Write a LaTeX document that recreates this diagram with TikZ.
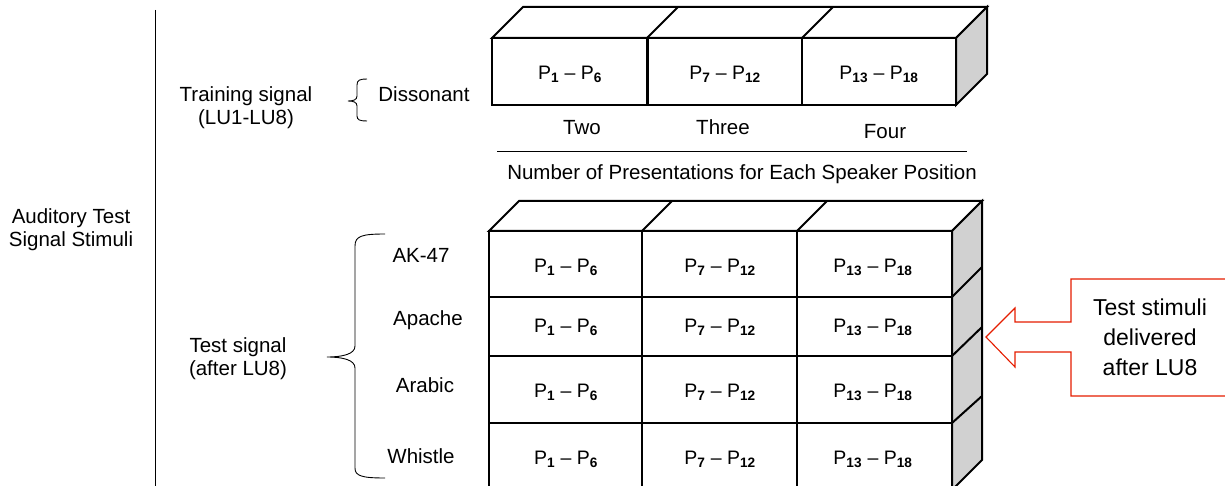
\documentclass[tikz,border=0pt]{standalone}
\usepackage{fontspec}
\setmainfont{Liberation Sans}
\newcommand{\sbx}[1]{\textsubscript{\bfseries #1}}
\begin{document}
\begin{tikzpicture}[x=1pt,y=-1pt,
  lbl/.style={font=\fontsize{20.5}{23}\selectfont, align=center, inner sep=0pt},
  cell/.style={font=\fontsize{19.5}{22}\selectfont, inner sep=0pt},
  edge/.style={line width=2pt, line join=miter},
  side/.style={edge, fill=black!18},
  thin/.style={line width=0.9pt},
  callout/.style={draw=red!75!orange!90!black, line width=1.1pt, fill=white}]
\useasboundingbox (0,0) rectangle (1225,486);

% separator
\draw[thin] (155,10) -- (155,486);
\node[lbl] (root) at (71,230) {Auditory Test\\Signal Stimuli};

% training part
\node[lbl] (train) at (246,108) {Training signal\\(LU1-LU8)};
\draw[thin] (367,79) .. controls (360,79) and (357,80) .. (357,85) -- (357,96)
  .. controls (357,100) and (353,101) .. (348,101)
  .. controls (353,101) and (357,102) .. (357,106) -- (357,116)
  .. controls (357,120) and (360,121) .. (367,121);
\node[lbl] (diss) at (424,94) {Dissonant};

% top block
\draw[edge, fill=white] (492,38) -- (523,7) -- (987,7) -- (956,38) -- cycle;
\draw[edge] (647,38) -- (678,7);
\draw[edge] (802,38) -- (833,7);
\draw[side] (956,38) -- (987,7) -- (987,74) -- (956,105) -- cycle;
\draw[edge] (492,38) rectangle (956,105);
\draw[line width=3pt] (647,38) -- (647,105);
\draw[edge] (802,38) -- (802,105);
\node[cell] (t1) at (570,74) {P\sbx{1} – P\sbx{6}};
\node[cell] (t2) at (725,74) {P\sbx{7} – P\sbx{12}};
\node[cell] (t3) at (879,74) {P\sbx{13} – P\sbx{18}};

\node[lbl] (two) at (582,128) {Two};
\node[lbl] (three) at (723,127) {Three};
\node[lbl] (four) at (885,132) {Four};
\draw[thin] (497,151) -- (967,151);
\node[lbl] (npres) at (742,174) {Number of Presentations for Each Speaker Position};

% lower block
\draw[edge, fill=white] (489,231) -- (519,201) -- (982,201) -- (952,231) -- cycle;
\draw[edge] (642,231) -- (672,201);
\draw[edge] (797,231) -- (827,201);
\draw[side] (952,231) -- (982,201) -- (982,460) -- (952,490) -- cycle;
\draw[edge] (952,297) -- (982,267);
\draw[edge] (952,356) -- (982,327);
\draw[edge] (952,423) -- (982,396);
\draw[edge] (489,490) -- (489,231) -- (952,231) -- (952,490);
\draw[edge] (489,297) -- (952,297);
\draw[edge] (489,356) -- (952,356);
\draw[edge] (489,423) -- (952,423);
\draw[edge] (642,231) -- (642,490);
\draw[edge] (797,231) -- (797,490);

\foreach \r/\y in {1/267,2/327,3/392,4/459}{
  \node[cell] (a\r) at (566,\y) {P\sbx{1} – P\sbx{6}};
  \node[cell] (b\r) at (720,\y) {P\sbx{7} – P\sbx{12}};
  \node[cell] (c\r) at (873,\y) {P\sbx{13} – P\sbx{18}};
}

% test part
\node[lbl] (test) at (238,359) {Test signal\\(after LU8)};
\draw[thin] (385,234) .. controls (362,234) and (355,236) .. (355,246) -- (355,346)
  .. controls (355,354) and (343,357) .. (327,357)
  .. controls (343,357) and (355,360) .. (355,368) -- (355,468)
  .. controls (355,476) and (362,478) .. (385,478);
\node[lbl] (ak) at (421,255) {AK-47};
\node[lbl] (apache) at (428,320) {Apache};
\node[lbl] (arabic) at (425,385) {Arabic};
\node[lbl] (whistle) at (421,456) {Whistle};

% callout arrow
\draw[callout] (1230,279) -- (1071,279) -- (1071,322) -- (1015,322) -- (1015,308)
  -- (986,337) -- (1015,367) -- (1015,352) -- (1071,352) -- (1071,396) -- (1230,396);
\node[align=center, inner sep=0pt, font=\fontsize{23}{30}\selectfont] (callout) at (1150,337) {Test stimuli\\delivered\\after LU8};
\end{tikzpicture}
\end{document}
